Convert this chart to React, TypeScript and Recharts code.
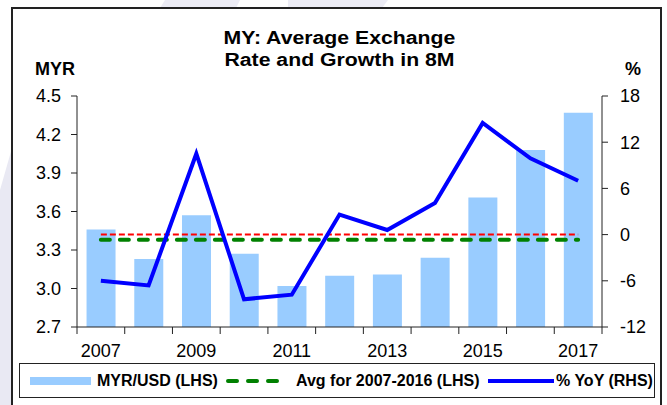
import {
  Bar,
  ComposedChart,
  Legend,
  Line,
  XAxis,
  YAxis
} from "recharts";

// values (8M averages)
const YEARS = ["2007", "2008", "2009", "2010", "2011", "2012", "2013", "2014", "2015", "2016", "2017"];
const MYR_USD = [3.46, 3.23, 3.57, 3.27, 3.02, 3.10, 3.11, 3.24, 3.71, 4.08, 4.37];
const AVG_2007_2016 = [3.38, 3.38, 3.38, 3.38, 3.38, 3.38, 3.38, 3.38, 3.38, 3.38, 3.38];
const YOY_PCT = [-6.0, -6.6, 10.5, -8.4, -7.8, 2.6, 0.6, 4.1, 14.5, 9.9, 7.0];
const ZERO_LINE = [0, 0, 0, 0, 0, 0, 0, 0, 0, 0, 0];

const LEFT_TICKS = [2.7, 3.0, 3.3, 3.6, 3.9, 4.2, 4.5];
const RIGHT_TICKS = [-12, -6, 0, 6, 12, 18];

const W = 667;
const H = 405;
const PLOT_LEFT = 77;
const PLOT_RIGHT = 602;
const PLOT_TOP = 96;
const PLOT_BOTTOM = 327;
const LEFT_AXIS_W = 65;
const RIGHT_AXIS_W = 50;
const X_AXIS_H = 30;
const BAND = (PLOT_RIGHT - PLOT_LEFT) / YEARS.length;

const FONT = "'Liberation Sans', Arial, sans-serif";
const BAR_COLOR = "#99ccff";
const AVG_COLOR = "#008000";
const YOY_COLOR = "#0000ff";
const ZERO_COLOR = "#ff0000";
const AXIS_COLOR = "#222";

const chartData = YEARS.map((year, i) => ({
  year,
  myr: MYR_USD[i],
  avg: AVG_2007_2016[i],
  yoy: YOY_PCT[i],
  zero: ZERO_LINE[i]
}));

function YearTick(props: any) {
  const { x, y, index } = props;
  const last = index === YEARS.length - 1;
  return (
    <g>
      <line x1={x - BAND / 2} x2={x - BAND / 2} y1={y} y2={y + 7} stroke={AXIS_COLOR} strokeWidth={1} />
      {last && (
        <line x1={x + BAND / 2} x2={x + BAND / 2} y1={y} y2={y + 7} stroke={AXIS_COLOR} strokeWidth={1} />
      )}
      {index % 2 === 0 && (
        <text x={x} y={y + 30} textAnchor="middle" fontSize={18} fontFamily={FONT} fill="#000">
          {YEARS[index]}
        </text>
      )}
    </g>
  );
}

function LegendBox() {
  const text = {
    position: "absolute" as const,
    top: 7,
    fontFamily: FONT,
    fontWeight: 700,
    fontSize: 16,
    lineHeight: "20px",
    color: "#000",
    whiteSpace: "nowrap" as const
  };
  return (
    <div
      style={{
        position: "relative",
        width: 636,
        height: 35,
        border: `1px solid ${AXIS_COLOR}`,
        boxSizing: "border-box",
        background: "#fff"
      }}
    >
      <div style={{ position: "absolute", left: 10, top: 13, width: 61, height: 8, background: BAR_COLOR }} />
      <div style={{ ...text, left: 77 }}>MYR/USD (LHS)</div>
      <svg style={{ position: "absolute", left: 206, top: 11 }} width={64} height={12}>
        <line x1={2} x2={62} y1={6} y2={6} stroke={AVG_COLOR} strokeWidth={4} strokeLinecap="round" strokeDasharray="9 11" />
      </svg>
      <div style={{ ...text, left: 276 }}>Avg for 2007-2016 (LHS)</div>
      <div style={{ position: "absolute", left: 468, top: 15, width: 66, height: 4, background: YOY_COLOR }} />
      <div style={{ ...text, left: 536 }}>% YoY (RHS)</div>
    </div>
  );
}

export default function App() {
  return (
    <div style={{ position: "fixed", left: 0, top: 0, width: W, height: H, background: "#fff", overflow: "hidden" }}>
      {/* faint watermark behind the frame */}
      <svg style={{ position: "absolute", left: 0, top: 0 }} width={W} height={H}>
        <polygon points="0,190 12,148 12,405 0,405" fill="#e9e9f3" />
        <polygon points="165,0 240,0 236,8 160,8" fill="#ececf5" />
        <polygon points="288,0 388,0 382,8 288,8" fill="#ececf5" />
      </svg>

      <div
        style={{
          position: "absolute",
          left: 11,
          top: 7,
          width: 651,
          height: 420,
          border: `2px solid ${AXIS_COLOR}`,
          boxSizing: "border-box",
          background: "#fff"
        }}
      />

      <div
        style={{
          position: "absolute",
          left: PLOT_LEFT,
          top: 27,
          width: PLOT_RIGHT - PLOT_LEFT,
          textAlign: "center",
          fontFamily: FONT,
          fontWeight: 700,
          fontSize: 18,
          lineHeight: "22px",
          color: "#000",
          transform: "scaleX(1.18)",
          transformOrigin: "center"
        }}
      >
        MY: Average Exchange
        <br />
        Rate and Growth in 8M
      </div>
      <div style={{ position: "absolute", left: 35, top: 58, fontFamily: FONT, fontWeight: 700, fontSize: 18, lineHeight: "22px" }}>
        MYR
      </div>
      <div style={{ position: "absolute", left: 625, top: 58, fontFamily: FONT, fontWeight: 700, fontSize: 18, lineHeight: "22px" }}>
        %
      </div>

      <div style={{ position: "absolute", left: 0, top: 0 }}>
        <ComposedChart
          width={W}
          height={H}
          data={chartData}
          margin={{
            top: PLOT_TOP,
            right: W - PLOT_RIGHT - RIGHT_AXIS_W,
            bottom: H - PLOT_BOTTOM - X_AXIS_H,
            left: PLOT_LEFT - LEFT_AXIS_W
          }}
          barCategoryGap="20%"
        >
          <XAxis
            dataKey="year"
            interval={0}
            height={X_AXIS_H}
            tickSize={0}
            tickMargin={0}
            tickLine={false}
            axisLine={{ stroke: AXIS_COLOR, strokeWidth: 1 }}
            tick={<YearTick />}
          />
          <YAxis
            yAxisId="left"
            width={LEFT_AXIS_W}
            domain={[2.7, 4.5]}
            ticks={LEFT_TICKS}
            allowDataOverflow
            tickFormatter={(v: number) => v.toFixed(1)}
            tickSize={6}
            tickMargin={10}
            axisLine={{ stroke: AXIS_COLOR, strokeWidth: 1 }}
            tickLine={{ stroke: AXIS_COLOR, strokeWidth: 1 }}
            tick={{ fill: "#000", fontSize: 18, fontFamily: FONT }}
          />
          <YAxis
            yAxisId="right"
            orientation="right"
            width={RIGHT_AXIS_W}
            domain={[-12, 18]}
            ticks={RIGHT_TICKS}
            allowDataOverflow
            tickSize={6}
            tickMargin={12}
            axisLine={{ stroke: AXIS_COLOR, strokeWidth: 1 }}
            tickLine={{ stroke: AXIS_COLOR, strokeWidth: 1 }}
            tick={{ fill: "#000", fontSize: 18, fontFamily: FONT }}
          />
          <Legend
            layout="horizontal"
            verticalAlign="middle"
            align="center"
            wrapperStyle={{ position: "absolute", left: 19, top: 363, width: 636, height: 35 }}
            content={() => <LegendBox />}
          />
          <Bar yAxisId="left" dataKey="myr" name="MYR/USD (LHS)" fill={BAR_COLOR} isAnimationActive={false} />
          <Line
            yAxisId="right"
            dataKey="zero"
            type="linear"
            stroke={ZERO_COLOR}
            strokeWidth={2}
            strokeDasharray="6 3"
            dot={false}
            activeDot={false}
            legendType="none"
            isAnimationActive={false}
          />
          <Line
            yAxisId="left"
            dataKey="avg"
            name="Avg for 2007-2016 (LHS)"
            type="linear"
            stroke={AVG_COLOR}
            strokeWidth={4}
            strokeLinecap="round"
            strokeDasharray="9 10"
            dot={false}
            activeDot={false}
            isAnimationActive={false}
          />
          <Line
            yAxisId="right"
            dataKey="yoy"
            name="% YoY (RHS)"
            type="linear"
            stroke={YOY_COLOR}
            strokeWidth={4}
            dot={false}
            activeDot={false}
            isAnimationActive={false}
          />
        </ComposedChart>
      </div>
    </div>
  );
}
